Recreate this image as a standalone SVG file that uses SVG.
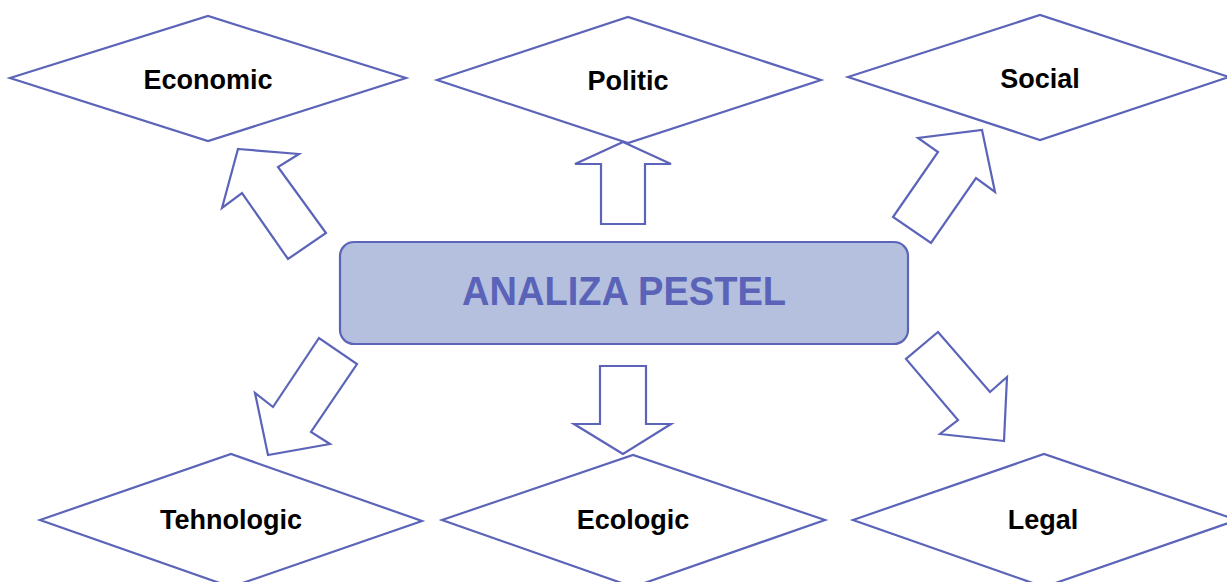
<svg xmlns="http://www.w3.org/2000/svg" width="1227" height="582" viewBox="0 0 1227 582">
<style>
.dia{fill:#ffffff;stroke:#5b64b8;stroke-width:2.2;stroke-linejoin:miter}
.arr{fill:none;stroke:#5b64b8;stroke-width:2.2;stroke-linejoin:miter}
.lbl{font-family:"Liberation Sans",Arial,sans-serif;font-weight:bold;font-size:27px;fill:#000000;text-anchor:middle}
.title{font-family:"Liberation Sans",Arial,sans-serif;font-weight:bold;font-size:40px;fill:#5a63b8;text-anchor:middle}
</style>
<rect width="1227" height="582" fill="#ffffff"/>
<g id="economic">
<polygon class="dia" points="10,78 208,16 406,78 208,141"/>
<text class="lbl" x="208" y="89">Economic</text>
</g>
<g id="politic">
<polygon class="dia" points="437,80 628,17 821,80 628,143"/>
<text class="lbl" x="628" y="90">Politic</text>
</g>
<g id="social">
<polygon class="dia" points="848,77 1040,15 1229,77 1040,140"/>
<text class="lbl" x="1040" y="88">Social</text>
</g>
<g id="tehnologic">
<polygon class="dia" points="40,520 231,454 422,521 231,587"/>
<text class="lbl" x="231" y="529">Tehnologic</text>
</g>
<g id="ecologic">
<polygon class="dia" points="442,520 633,455 825,520 633,587"/>
<text class="lbl" x="633" y="529">Ecologic</text>
</g>
<g id="legal">
<polygon class="dia" points="853,520 1044,454 1237,520 1044,587"/>
<text class="lbl" x="1043" y="529">Legal</text>
</g>
<g id="center">
<rect x="340" y="242" width="568" height="102" rx="14" ry="14" fill="#b4c0de" stroke="#5b64b8" stroke-width="2.2"/>
<text class="title" x="624" y="305" textLength="324" lengthAdjust="spacingAndGlyphs">ANALIZA PESTEL</text>
</g>
<g id="connectors">
<polygon class="arr" points="238,149 299,154 278,167 326,233 288,259 242,193 222,208"/>
<polygon class="arr" points="623,142 671,164 645,164 645,224 601,224 601,164 575,164"/>
<polygon class="arr" points="982,130 995,192 976,178 931,243 893,217 938,152 918,138"/>
<polygon class="arr" points="268,455 255,393 273,407 319,338 357,364 311,432 330,444"/>
<polygon class="arr" points="623,454 574,424 600,424 600,366 646,366 646,424 671,424"/>
<polygon class="arr" points="1004,441 940,434 958,420 906,359 938,332 990,392 1007,377"/>
</g>
</svg>
